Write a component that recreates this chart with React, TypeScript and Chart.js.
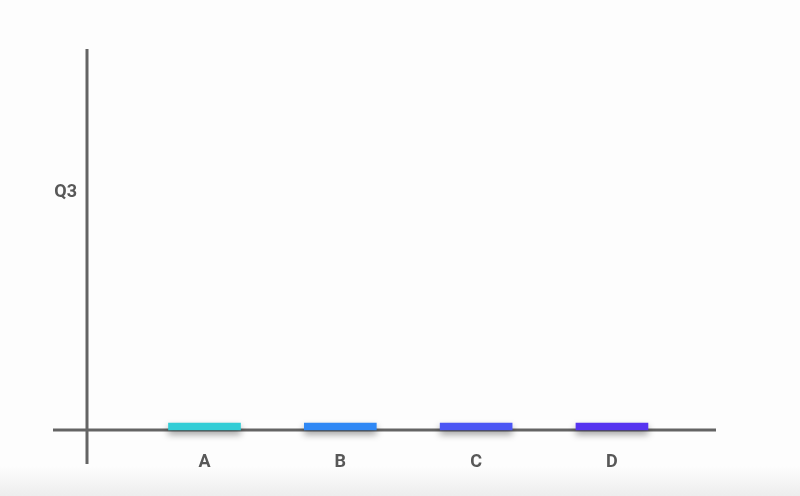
import React, { useEffect, useRef } from "react";
import { Chart, registerables } from "chart.js";

Chart.register(...registerables);

const categories = ["A", "B", "C", "D"];
const values = [1.8, 1.8, 1.8, 1.8];
const barColors = ["#32cdd6", "#2f88f5", "#4b56f4", "#5634f0"];
const yTickValues = [62.4];
const yTickLabels = ["Q3"];

const axisColor = "#646464";
const textColor = "#585858";

const axisPlugin = {
  id: "crossAxes",
  beforeDatasetsDraw(chart: any) {
    const { ctx, chartArea } = chart;
    const ext = 34;
    ctx.save();
    ctx.strokeStyle = axisColor;
    ctx.lineWidth = 3;
    ctx.lineCap = "butt";
    ctx.beginPath();
    ctx.moveTo(chartArea.left - ext, chartArea.bottom);
    ctx.lineTo(chartArea.right, chartArea.bottom);
    ctx.moveTo(chartArea.left, chartArea.top);
    ctx.lineTo(chartArea.left, chartArea.bottom + ext);
    ctx.stroke();
    ctx.restore();
  },
  beforeDatasetDraw(chart: any) {
    const ctx = chart.ctx;
    ctx.save();
    ctx.shadowColor = "rgba(0,0,0,0.4)";
    ctx.shadowBlur = 7;
    ctx.shadowOffsetY = 4;
  },
  afterDatasetDraw(chart: any) {
    chart.ctx.restore();
  },
};

export default function App() {
  const ref = useRef<HTMLCanvasElement | null>(null);

  useEffect(() => {
    if (!ref.current) return;
    const chart = new Chart(ref.current, {
      type: "bar",
      data: {
        datasets: [
          {
            data: values.map((v, i) => ({ x: i, y: v })),
            backgroundColor: barColors,
            borderWidth: 0,
            barThickness: 72,
            clip: false,
          } as any,
        ],
      },
      options: {
        animation: false,
        responsive: true,
        maintainAspectRatio: false,
        layout: { padding: { top: 49, right: 84, left: 0, bottom: 0 } },
        plugins: { legend: { display: false }, tooltip: { enabled: false } },
        scales: {
          x: {
            type: "linear",
            offset: false,
            min: -0.865,
            max: 3.766,
            afterBuildTicks: (scale: any) => {
              scale.ticks = categories.map((_, i) => ({ value: i }));
            },
            afterFit: (scale: any) => {
              scale.height = 66;
            },
            grid: { display: false, drawTicks: false },
            border: { display: false },
            ticks: {
              padding: 22,
              color: textColor,
              font: { family: "Roboto", weight: "bold", size: 18 },
              callback: (v: any) => categories[v] ?? "",
            },
          },
          y: {
            min: 0,
            max: 100,
            afterBuildTicks: (scale: any) => {
              scale.ticks = yTickValues.map((v) => ({ value: v }));
            },
            afterFit: (scale: any) => {
              scale.width = 87;
            },
            grid: { display: false, drawTicks: false },
            border: { display: false },
            ticks: {
              padding: 10,
              color: textColor,
              font: { family: "Roboto", weight: "bold", size: 18 },
              callback: (v: any) => {
                const idx = yTickValues.indexOf(v);
                return idx >= 0 ? yTickLabels[idx] : "";
              },
            },
          },
        },
      },
      plugins: [axisPlugin],
    });
    return () => chart.destroy();
  }, []);

  return (
    <div
      style={{
        position: "fixed",
        left: 0,
        top: 0,
        width: 800,
        height: 496,
        background:
          "linear-gradient(to bottom, #fdfdfd 0%, #fdfdfd 94%, #ededed 100%)",
      }}
    >
      <canvas ref={ref} width={800} height={496} />
    </div>
  );
}
